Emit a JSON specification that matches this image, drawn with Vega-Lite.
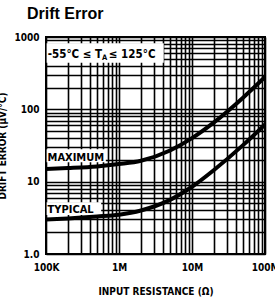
{
  "$schema": "https://vega.github.io/schema/vega-lite/v6.json",
  "width": 219,
  "height": 217,
  "autosize": "none",
  "padding": {"left": 46, "top": 37, "right": 10, "bottom": 52},
  "background": "white",
  "title": {
    "text": "Drift Error",
    "anchor": "start",
    "frame": "group",
    "dx": -19,
    "offset": 10,
    "font": "Liberation Sans",
    "fontSize": 16,
    "fontWeight": "bold",
    "color": "#000"
  },
  "config": {
    "view": {"stroke": "#000", "strokeWidth": 2},
    "axis": {
      "labelFont": "DejaVu Sans Condensed",
      "labelFontWeight": "bold",
      "labelFontSize": 10,
      "labelColor": "#000",
      "titleFont": "DejaVu Sans Condensed",
      "titleFontWeight": "bold",
      "titleFontSize": 10,
      "titleColor": "#000",
      "grid": true,
      "gridColor": "#000",
      "gridWidth": 1.6,
      "gridOpacity": 1,
      "ticks": false,
      "domain": false,
      "labelOverlap": false,
      "labelBound": false,
      "labelFlush": false
    }
  },
  "layer": [
    {
      "data": {"values": [
        {"x1": 102000, "x2": 660000, "y1": 18.5, "y2": 28},
        {"x1": 102000, "x2": 570000, "y1": 3.45, "y2": 5.2},
        {"x1": 102000, "x2": 4100000, "y1": 440, "y2": 820}
      ]},
      "mark": {"type": "rect", "fill": "white"},
      "encoding": {
        "x": {"field": "x1", "type": "quantitative", "scale": {"type": "log", "domain": [100000, 100000000], "nice": false},
          "axis": {
            "values": [100000,200000,300000,400000,500000,600000,700000,800000,900000,1000000,2000000,3000000,4000000,5000000,6000000,7000000,8000000,9000000,10000000,20000000,30000000,40000000,50000000,60000000,70000000,80000000,90000000,100000000],
            "labelExpr": "datum.value == 100000 ? '100K' : datum.value == 1000000 ? '1M' : datum.value == 10000000 ? '10M' : datum.value == 100000000 ? '100M' : ''",
            "labelPadding": 8,
            "title": "INPUT RESISTANCE (Ω)",
            "titlePadding": 14
          }},
        "x2": {"field": "x2"},
        "y": {"field": "y1", "type": "quantitative", "scale": {"type": "log", "domain": [1, 1000], "nice": false},
          "axis": {
            "values": [1,2,3,4,5,6,7,8,9,10,20,30,40,50,60,70,80,90,100,200,300,400,500,600,700,800,900,1000],
            "labelExpr": "datum.value == 1 ? '1.0' : datum.value == 10 ? '10' : datum.value == 100 ? '100' : datum.value == 1000 ? '1000' : ''",
            "labelPadding": 7,
            "title": "DRIFT ERROR (µV/°C)",
            "titlePadding": 6
          }},
        "y2": {"field": "y2"}
      }
    },
    {
      "data": {"values": [
        {"R": 100000, "drift": 15, "series": "MAXIMUM"},
        {"R": 200000, "drift": 15.4, "series": "MAXIMUM"},
        {"R": 500000, "drift": 16.2, "series": "MAXIMUM"},
        {"R": 1000000, "drift": 17.5, "series": "MAXIMUM"},
        {"R": 2000000, "drift": 19.5, "series": "MAXIMUM"},
        {"R": 5000000, "drift": 27, "series": "MAXIMUM"},
        {"R": 10000000, "drift": 40, "series": "MAXIMUM"},
        {"R": 20000000, "drift": 66, "series": "MAXIMUM"},
        {"R": 50000000, "drift": 145, "series": "MAXIMUM"},
        {"R": 100000000, "drift": 280, "series": "MAXIMUM"},
        {"R": 100000, "drift": 3.0, "series": "TYPICAL"},
        {"R": 200000, "drift": 3.1, "series": "TYPICAL"},
        {"R": 500000, "drift": 3.3, "series": "TYPICAL"},
        {"R": 1000000, "drift": 3.5, "series": "TYPICAL"},
        {"R": 2000000, "drift": 4.0, "series": "TYPICAL"},
        {"R": 5000000, "drift": 5.6, "series": "TYPICAL"},
        {"R": 10000000, "drift": 8.5, "series": "TYPICAL"},
        {"R": 20000000, "drift": 14.5, "series": "TYPICAL"},
        {"R": 50000000, "drift": 32, "series": "TYPICAL"},
        {"R": 100000000, "drift": 62, "series": "TYPICAL"}
      ]},
      "mark": {"type": "line", "color": "#000", "strokeWidth": 4, "interpolate": "monotone", "clip": true},
      "encoding": {
        "x": {"field": "R", "type": "quantitative"},
        "y": {"field": "drift", "type": "quantitative"},
        "detail": {"field": "series"}
      }
    },
    {
      "data": {"values": [
        {"R": 105000, "v": 21.5, "label": "MAXIMUM"},
        {"R": 105000, "v": 4.1, "label": "TYPICAL"}
      ]},
      "mark": {"type": "text", "align": "left", "baseline": "middle", "font": "DejaVu Sans Condensed", "fontWeight": "bold", "fontSize": 11, "color": "#000"},
      "encoding": {
        "x": {"field": "R", "type": "quantitative"},
        "y": {"field": "v", "type": "quantitative"},
        "text": {"field": "label"}
      }
    },
    {
      "data": {"values": [{"R": 587000, "v": 570, "label": "-55°C ≤ T"}]},
      "mark": {"type": "text", "align": "right", "baseline": "middle", "font": "DejaVu Sans Condensed", "fontWeight": "bold", "fontSize": 11.5, "color": "#000"},
      "encoding": {
        "x": {"field": "R", "type": "quantitative"},
        "y": {"field": "v", "type": "quantitative"},
        "text": {"field": "label"}
      }
    },
    {
      "data": {"values": [{"R": 587000, "v": 570, "label": "A"}]},
      "mark": {"type": "text", "align": "left", "baseline": "middle", "dy": 3, "font": "DejaVu Sans Condensed", "fontWeight": "bold", "fontSize": 7.5, "color": "#000"},
      "encoding": {
        "x": {"field": "R", "type": "quantitative"},
        "y": {"field": "v", "type": "quantitative"},
        "text": {"field": "label"}
      }
    },
    {
      "data": {"values": [{"R": 726000, "v": 570, "label": "≤ 125°C"}]},
      "mark": {"type": "text", "align": "left", "baseline": "middle", "font": "DejaVu Sans Condensed", "fontWeight": "bold", "fontSize": 11.5, "color": "#000"},
      "encoding": {
        "x": {"field": "R", "type": "quantitative"},
        "y": {"field": "v", "type": "quantitative"},
        "text": {"field": "label"}
      }
    }
  ]
}
